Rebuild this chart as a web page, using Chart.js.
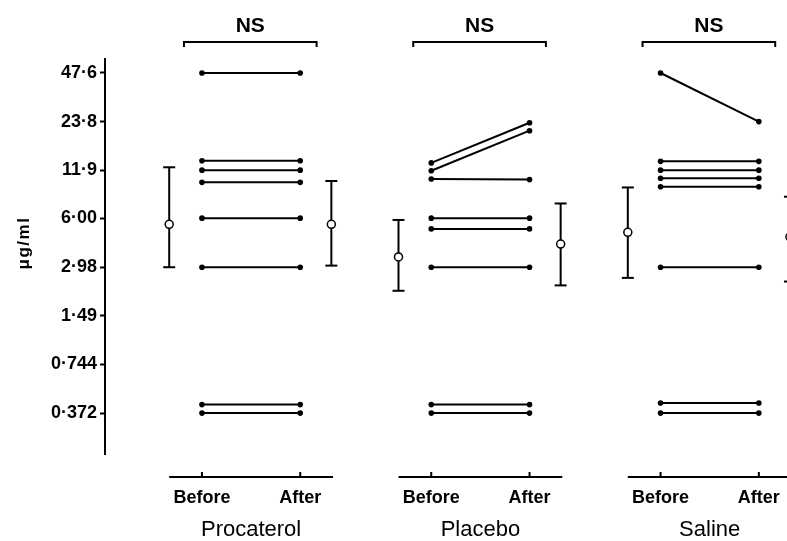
<!DOCTYPE html>
<html>
<head>
<meta charset="utf-8">
<script src="https://cdn.jsdelivr.net/npm/chart.js@4"></script>
<style>
  html, body { margin: 0; padding: 0; background: #fff; overflow: hidden; }
  canvas { display: block; }
</style>
</head>
<body>
<canvas id="pc20" width="787" height="541"></canvas>
<script>
const groups = ['Procaterol', 'Placebo', 'Saline'];
const timeLabels = ['Before', 'After'];
const yTickValues = [0.372, 0.744, 1.49, 2.98, 6.00, 11.9, 23.8, 47.6];
const yTickLabels = ['0·372', '0·744', '1·49', '2·98', '6·00', '11·9', '23·8', '47·6'];
const yTitle = 'μg/ml';

// individual subjects, µg/ml
const procaterolBefore = [47.6, 13.6, 11.9, 10.0, 6.00, 2.98, 0.42, 0.372];
const procaterolAfter  = [47.6, 13.6, 11.9, 10.0, 6.00, 2.98, 0.42, 0.372];
const placeboBefore    = [13.2, 11.8, 10.5, 6.00, 5.15, 2.98, 0.42, 0.372];
const placeboAfter     = [23.4, 20.9, 10.4, 6.00, 5.15, 2.98, 0.42, 0.372];
const salineBefore     = [47.6, 13.5, 11.9, 10.6, 9.4, 2.98, 0.43, 0.372];
const salineAfter      = [23.8, 13.5, 11.9, 10.6, 9.4, 2.98, 0.43, 0.372];

// geometric mean and range bars
const meanBefore = [5.5, 3.45, 4.9];
const lowBefore  = [2.98, 2.13, 2.56];
const highBefore = [12.4, 5.85, 9.3];
const meanAfter  = [5.5, 4.15, 4.6];
const lowAfter   = [3.05, 2.3, 2.43];
const highAfter  = [10.2, 7.4, 8.15];

const significance = ['NS', 'NS', 'NS'];

const FONT = "'Liberation Sans', Arial, Helvetica, sans-serif";
const beforeX = g => 2 + 7 * g;
const afterX = g => 5 + 7 * g;
const yAxisEnd = 0.2044;

const subjects = [
  [procaterolBefore, procaterolAfter],
  [placeboBefore, placeboAfter],
  [salineBefore, salineAfter]
];

const datasets = [];
subjects.forEach(([before, after], g) => {
  before.forEach((v, i) => {
    datasets.push({
      data: [{x: beforeX(g), y: v}, {x: afterX(g), y: after[i]}],
      showLine: true,
      borderColor: '#000',
      borderWidth: 2,
      pointRadius: 2.8,
      pointBackgroundColor: '#000',
      pointBorderWidth: 0,
      order: 2
    });
  });
});

groups.forEach((name, g) => {
  const bars = [
    [beforeX(g) - 1, lowBefore[g], highBefore[g], meanBefore[g]],
    [afterX(g) + 0.95, lowAfter[g], highAfter[g], meanAfter[g]]
  ];
  bars.forEach(([x, lo, hi, m]) => {
    datasets.push({
      data: [{x: x, y: lo}, {x: x, y: hi}],
      showLine: true,
      borderColor: '#000',
      borderWidth: 2,
      pointStyle: 'line',
      pointRadius: 6,
      pointBorderColor: '#000',
      pointBorderWidth: 2,
      clip: false,
      order: 1
    });
    datasets.push({
      data: [{x: x, y: m}],
      pointStyle: 'circle',
      pointRadius: 4,
      pointBackgroundColor: '#fff',
      pointBorderColor: '#000',
      pointBorderWidth: 1.5,
      clip: false,
      order: 0
    });
  });
});

const decor = {
  id: 'decor',
  afterDraw(chart) {
    const {ctx, chartArea} = chart;
    const xs = chart.scales.x;
    const ys = chart.scales.y;
    ctx.save();
    ctx.strokeStyle = '#000';
    ctx.fillStyle = '#000';
    ctx.lineWidth = 2;

    // y axis line, stopping short of the panel base lines
    ctx.beginPath();
    ctx.moveTo(chartArea.left, chartArea.top);
    ctx.lineTo(chartArea.left, ys.getPixelForValue(yAxisEnd));
    ctx.stroke();

    // y axis title
    const yMid = (ys.getPixelForValue(yTickValues[0]) + ys.getPixelForValue(yTickValues[yTickValues.length - 1])) / 2;
    ctx.save();
    ctx.translate(ys.left + 24, yMid);
    ctx.rotate(-Math.PI / 2);
    ctx.font = 'bold 17px ' + FONT;
    ctx.letterSpacing = '1.5px';
    ctx.textAlign = 'center';
    ctx.textBaseline = 'middle';
    ctx.fillText(yTitle, 0, 0);
    ctx.restore();

    groups.forEach((name, g) => {
      // panel base line with Before / After ticks
      const yb = chartArea.bottom;
      ctx.beginPath();
      ctx.moveTo(xs.getPixelForValue(beforeX(g) - 1), yb);
      ctx.lineTo(xs.getPixelForValue(afterX(g) + 1), yb);
      [beforeX(g), afterX(g)].forEach(v => {
        const px = xs.getPixelForValue(v);
        ctx.moveTo(px, yb);
        ctx.lineTo(px, yb - 5);
      });
      ctx.stroke();

      // significance bracket
      const yt = chartArea.top - 16;
      const l = xs.getPixelForValue(beforeX(g) - 0.55);
      const r = xs.getPixelForValue(afterX(g) + 0.5);
      ctx.beginPath();
      ctx.moveTo(l, yt + 5);
      ctx.lineTo(l, yt);
      ctx.lineTo(r, yt);
      ctx.lineTo(r, yt + 5);
      ctx.stroke();
      ctx.font = 'bold 21px ' + FONT;
      ctx.textAlign = 'center';
      ctx.textBaseline = 'middle';
      ctx.fillText(significance[g], (l + r) / 2, chartArea.top - 32);
    });
    ctx.restore();
  }
};

// the panel labels sit well inside the canvas, so no side padding is needed
const noSidePadding = scale => {
  scale.paddingLeft = 0;
  scale.paddingRight = 0;
};

new Chart(document.getElementById('pc20'), {
  type: 'scatter',
  data: {datasets: datasets},
  options: {
    responsive: false,
    animation: false,
    events: [],
    layout: {autoPadding: false, padding: {top: 58, left: 0, right: 0, bottom: 0}},
    plugins: {legend: {display: false}, tooltip: {enabled: false}},
    scales: {
      x: {
        type: 'linear',
        position: 'bottom',
        min: -0.96,
        max: 19.86,
        afterBuildTicks: scale => {
          scale.ticks = [];
          groups.forEach((n, g) => {
            scale.ticks.push({value: beforeX(g)}, {value: afterX(g)});
          });
        },
        afterFit: noSidePadding,
        ticks: {
          autoSkip: false,
          maxRotation: 0,
          padding: 12,
          color: '#000',
          font: {family: FONT, size: 18, weight: 'bold', lineHeight: 1},
          callback: (v, i) => timeLabels[i % 2]
        },
        grid: {display: false, drawTicks: false},
        border: {display: false}
      },
      x2: {
        type: 'linear',
        position: 'bottom',
        min: -0.96,
        max: 19.86,
        afterBuildTicks: scale => {
          scale.ticks = groups.map((n, g) => ({value: (beforeX(g) + afterX(g)) / 2}));
        },
        afterFit: noSidePadding,
        ticks: {
          autoSkip: false,
          maxRotation: 0,
          padding: 0,
          color: '#000',
          font: {family: FONT, size: 22, lineHeight: 1},
          callback: (v, i) => groups[i]
        },
        grid: {display: false, drawTicks: false},
        border: {display: false}
      },
      y: {
        type: 'logarithmic',
        min: 0.1495,
        max: 58.95,
        afterBuildTicks: scale => {
          scale.ticks = yTickValues.map(v => ({value: v}));
        },
        afterFit: scale => { scale.width = 105; },
        ticks: {
          autoSkip: false,
          padding: 3,
          color: '#000',
          font: {family: FONT, size: 18, weight: 'bold'},
          callback: (v, i) => yTickLabels[i]
        },
        grid: {display: true, drawOnChartArea: false, drawTicks: true, tickLength: 5, tickColor: '#000', tickWidth: 2},
        border: {display: false}
      }
    }
  },
  plugins: [decor]
});
</script>
</body>
</html>
